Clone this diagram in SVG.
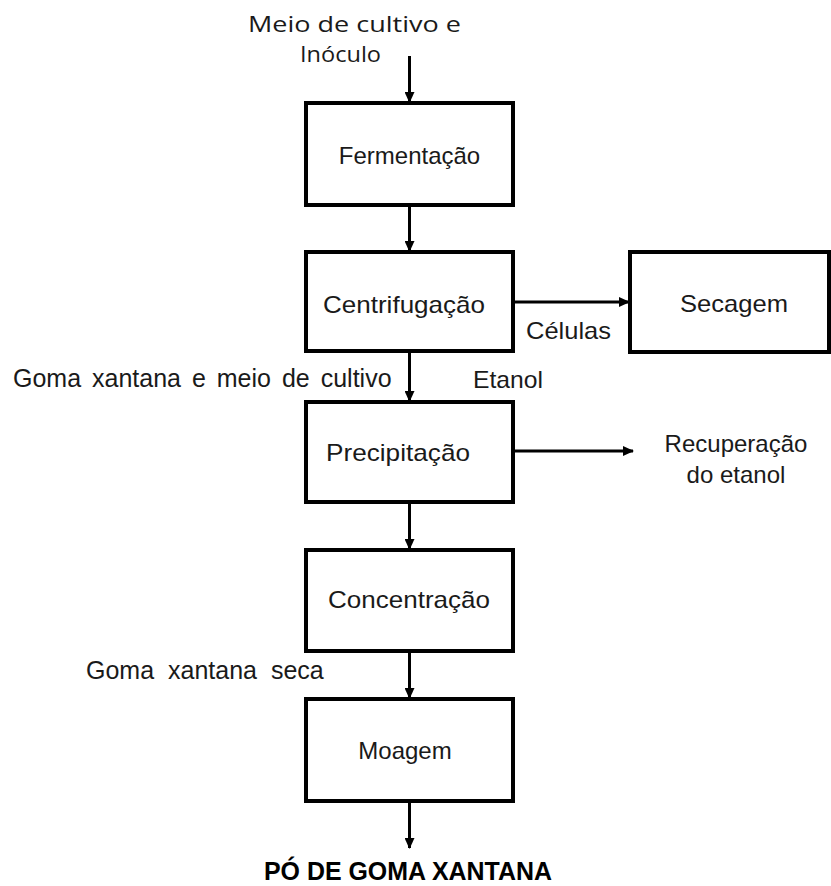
<svg xmlns="http://www.w3.org/2000/svg" width="831" height="886" viewBox="0 0 831 886">
<style>
.box{fill:#fff;stroke:#000;stroke-width:4}
.t{font-family:"Liberation Sans",Arial,sans-serif;font-size:24px;fill:#1a1a1a}
.c{text-anchor:middle}
.lg{font-size:25px}
.cal{font-family:"Open Sans","Liberation Sans",sans-serif;font-size:22px;fill:#1a1a1a}
.b{font-weight:bold;font-size:25px;fill:#000}
.con{stroke:#000;stroke-width:3;fill:none;marker-end:url(#ah)}
</style>
<defs>
<marker id="ah" markerUnits="userSpaceOnUse" markerWidth="11" markerHeight="10" refX="10" refY="5" orient="auto">
<path d="M0,0 L11,5 L0,10 z" fill="#000"/>
</marker>
</defs>
<rect width="831" height="886" fill="#fff"/>
<g id="connectors">
<line class="con" x1="409.5" y1="56" x2="409.5" y2="102"/>
<line class="con" x1="409.5" y1="205" x2="409.5" y2="251"/>
<line class="con" x1="513" y1="302" x2="629" y2="302"/>
<line class="con" x1="409.5" y1="351" x2="409.5" y2="401"/>
<line class="con" x1="515" y1="451" x2="633" y2="451"/>
<line class="con" x1="409.5" y1="502" x2="409.5" y2="549"/>
<line class="con" x1="409.5" y1="651" x2="409.5" y2="698"/>
<line class="con" x1="409.5" y1="801" x2="409.5" y2="848"/>
</g>
<g id="input-label">
<text class="cal" x="248" y="32" textLength="213" lengthAdjust="spacingAndGlyphs">Meio de cultivo e</text>
<text class="cal" x="300" y="62" textLength="81" lengthAdjust="spacingAndGlyphs">Inóculo</text>
</g>
<g id="fermentacao">
<rect class="box" x="306" y="103" width="207" height="102"/>
<text class="t c" x="409.5" y="164">Fermentação</text>
</g>
<g id="centrifugacao">
<rect class="box" x="306" y="252" width="207" height="99"/>
<text class="t" x="323" y="313" textLength="162" lengthAdjust="spacingAndGlyphs">Centrifugação</text>
</g>
<g id="secagem">
<rect class="box" x="630" y="252" width="199" height="100"/>
<text class="t" x="680" y="312" textLength="108" lengthAdjust="spacingAndGlyphs">Secagem</text>
</g>
<g id="labels">
<text class="t" x="526" y="339" textLength="85" lengthAdjust="spacingAndGlyphs">Células</text>
<text class="t lg" x="13" y="387" word-spacing="4">Goma xantana e meio de cultivo</text>
<text class="t" x="473" y="388" textLength="70" lengthAdjust="spacingAndGlyphs">Etanol</text>
<text class="t lg" x="86" y="679" word-spacing="7">Goma xantana seca</text>
</g>
<g id="precipitacao">
<rect class="box" x="306" y="402" width="207" height="100"/>
<text class="t" x="326" y="461" textLength="144" lengthAdjust="spacingAndGlyphs">Precipitação</text>
</g>
<g id="recuperacao">
<text class="t c" x="736" y="452">Recuperação</text>
<text class="t c" x="736" y="483">do etanol</text>
</g>
<g id="concentracao">
<rect class="box" x="306" y="550" width="207" height="101"/>
<text class="t" x="328" y="608" textLength="162" lengthAdjust="spacingAndGlyphs">Concentração</text>
</g>
<g id="moagem">
<rect class="box" x="306" y="699" width="207" height="102"/>
<text class="t c" x="405" y="759">Moagem</text>
</g>
<g id="output">
<text class="t b" x="264" y="880" textLength="288" lengthAdjust="spacingAndGlyphs">PÓ DE GOMA XANTANA</text>
</g>
</svg>
